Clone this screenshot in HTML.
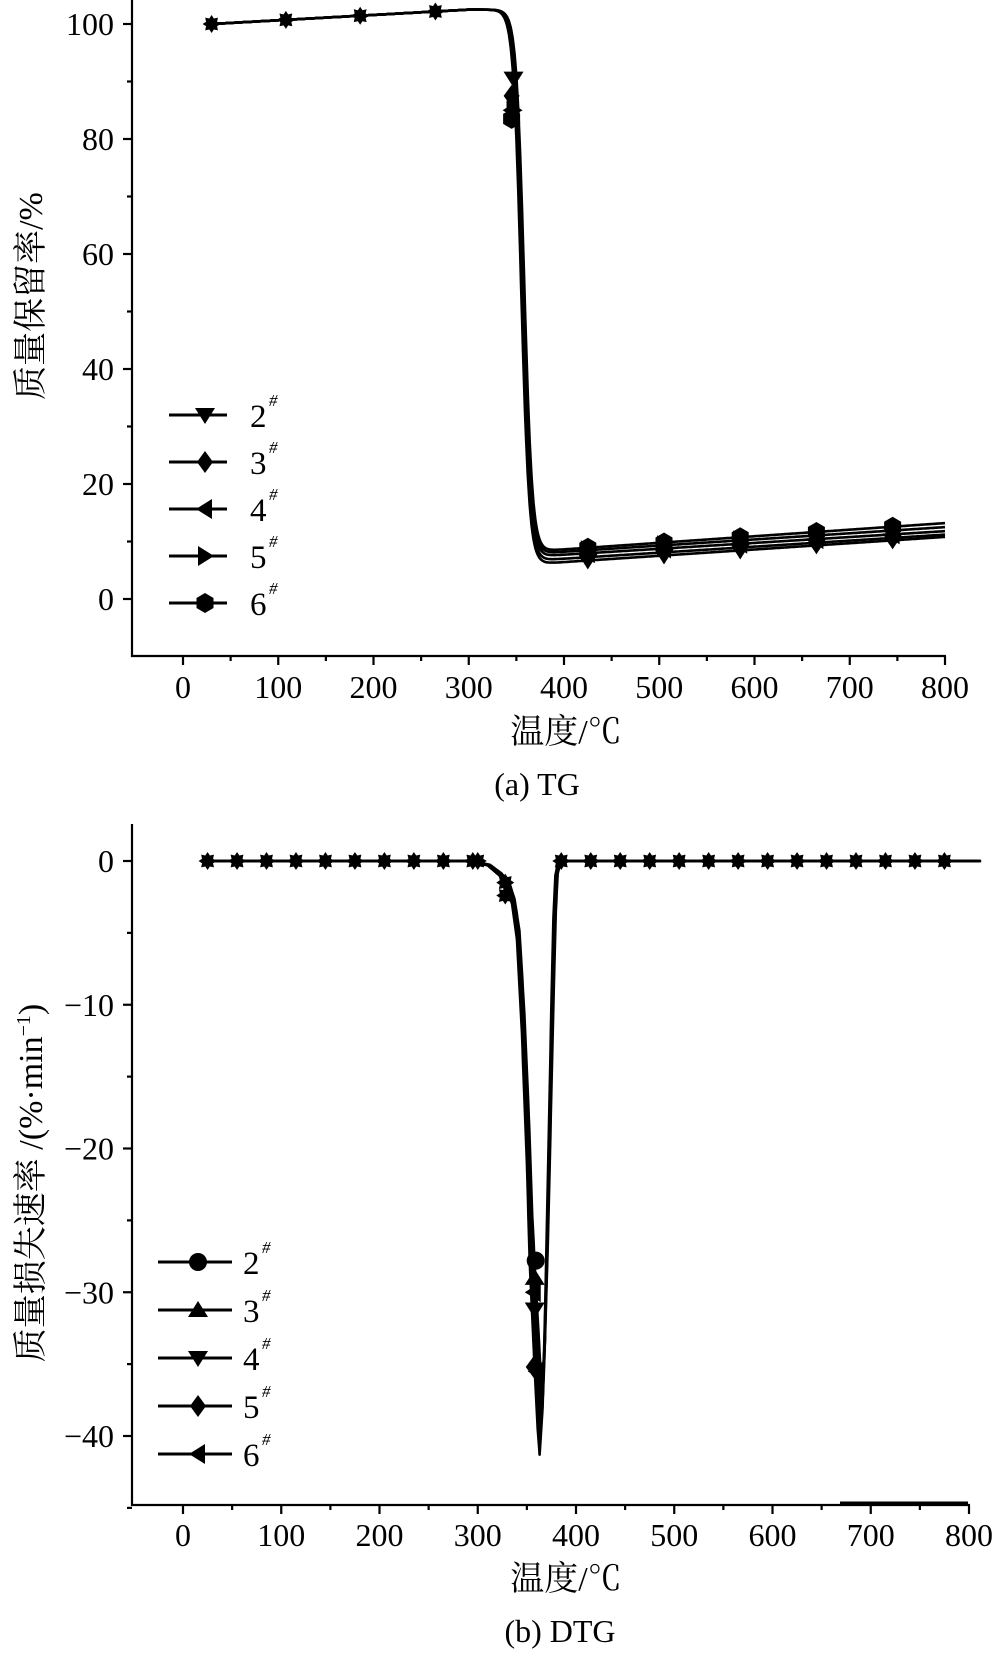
<!DOCTYPE html>
<html><head><meta charset="utf-8"><style>
html,body{margin:0;padding:0;background:#fff}
svg{display:block}
text{font-family:"Liberation Serif","Noto Serif CJK SC",serif;fill:#000}
</style></head><body>
<svg id="s" width="1000" height="1656" xmlns="http://www.w3.org/2000/svg">
<defs>
<g id="star"><polygon points="0,-9 2.3,-5.5 6.4,-6.4 5.5,-2.3 9,0 5.5,2.3 6.4,6.4 2.3,5.5 0,9 -2.3,5.5 -6.4,6.4 -5.5,2.3 -9,0 -5.5,-2.3 -6.4,-6.4 -2.3,-5.5" fill="#000"/></g>
</defs>
<g id="g1"></g>
</svg>
<script>
const S=document.getElementById('g1');let h='';
function L(x1,y1,x2,y2,w){h+=`<line x1="${x1}" y1="${y1}" x2="${x2}" y2="${y2}" stroke="#000" stroke-width="${w||2.2}"/>`;}
function T(x,y,s,a,fs,extra){h+=`<text x="${x}" y="${y}" font-size="${fs||32}" text-anchor="${a||'middle'}" ${extra||''}>${s}</text>`;}
function mk(t,x,y){const r=10;
 if(t=='dn')h+=`<polygon points="${x-r},${y-r*0.7} ${x+r},${y-r*0.7} ${x},${y+r*0.9}"/>`;
 if(t=='up')h+=`<polygon points="${x-r},${y+r*0.7} ${x+r},${y+r*0.7} ${x},${y-r*0.9}"/>`;
 if(t=='di')h+=`<polygon points="${x},${y-r*1.1} ${x+r*0.8},${y} ${x},${y+r*1.1} ${x-r*0.8},${y}"/>`;
 if(t=='lt')h+=`<polygon points="${x+r*0.7},${y-r} ${x+r*0.7},${y+r} ${x-r*0.9},${y}"/>`;
 if(t=='rt')h+=`<polygon points="${x-r*0.7},${y-r} ${x-r*0.7},${y+r} ${x+r*0.9},${y}"/>`;
 if(t=='hx')h+=`<polygon points="${x},${y-r} ${x+r*0.85},${y-r*0.5} ${x+r*0.85},${y+r*0.5} ${x},${y+r} ${x-r*0.85},${y+r*0.5} ${x-r*0.85},${y-r*0.5}"/>`;
 if(t=='ci')h+=`<circle cx="${x}" cy="${y}" r="${r*0.9}"/>`;
 if(t=='st')h+=`<use href="#star" x="${x}" y="${y}"/>`;
}
function path(pts,w){h+=`<path d="M${pts.map(p=>p[0].toFixed(1)+','+p[1].toFixed(1)).join('L')}" fill="none" stroke="#000" stroke-width="${w||3}" stroke-linejoin="round"/>`;}
// ---------- TG ----------
let X1=t=>183+0.9525*t,Y1=v=>599-5.75*v;
L(132,0,132,657);L(131,656,946,656);
for(let v=0;v<=100;v+=20){L(132,Y1(v),123,Y1(v));T(114,Y1(v)+11,v,'end');}
for(let v=10;v<=90;v+=20){L(132,Y1(v),127,Y1(v));}
for(let t=0;t<=800;t+=100){L(X1(t),656,X1(t),665);T(X1(t),698,t);}
for(let t=50;t<=750;t+=100){L(X1(t),656,X1(t),661);}
T(566,743,'温度/℃','middle',34);T(537,795,'(a) TG','middle',32);
h+=`<text transform="translate(42,296) rotate(-90)" font-size="34" text-anchor="middle">质量保留率/%</text>`;
const ends=[[6.2,10.8],[6.8,11.2],[7.5,11.8],[8,12.5],[8.4,13.2]];
ends.forEach((e,i)=>{let pts=[];for(let t=30;t<=800;t+=1){let v;
 const lowLine=e[0]+(e[1]-e[0])*(t-380)/420;
 if(t<300)v=100+2.5*(t-30)/270;else{const d=1/(1+Math.exp(-(t-(355+i*0.8))/4.2));const base=t<380?e[0]:lowLine;v=102.5-(102.5-base)*d;}
 pts.push([X1(t),Y1(v)]);}path(pts,2.6);});
[30,108,186,265].forEach(t=>{const v=100+2.5*(t-30)/270;mk('st',X1(t),Y1(v));});
mk('dn',X1(347),Y1(90.5));mk('di',X1(345),Y1(87.5));mk('lt',X1(345),Y1(85));mk('rt',X1(347),Y1(85));mk('hx',X1(345),Y1(83.5));
[425,505,585,665,745].forEach(t=>{ends.forEach((e,i)=>{const v=e[0]+(e[1]-e[0])*(t-380)/420;mk(['dn','di','lt','rt','hx'][i],X1(t),Y1(v));});});
const lg1=[['dn','2'],['di','3'],['lt','4'],['rt','5'],['hx','6']];
lg1.forEach((l,i)=>{const y=415+i*47;L(169,y,227,y,3);mk(l[0],205,y);T(250,y+12,l[1],'start',33);T(269,y-9,'#','start',17,'font-style="italic"');});
// ---------- DTG ----------
let X2=t=>183+0.9825*t,Y2=v=>861-14.375*v;
L(132,824,132,1506);L(131,1505,970,1505);
for(let v=0;v>=-40;v-=10){L(132,Y2(v),123,Y2(v));T(114,Y2(v)+11,v==0?'0':'−'+(-v),'end');}
for(let v=-5;v>=-45;v-=10){L(132,Y2(v),127,Y2(v));}
for(let t=0;t<=800;t+=100){L(X2(t),1505,X2(t),1514);T(X2(t),1546,t);}
for(let t=50;t<=750;t+=100){L(X2(t),1505,X2(t),1510);}
L(840,1503,968,1503,3);
T(566,1590,'温度/℃','middle',34);T(560,1642,'(b) DTG','middle',32);
h+=`<text transform="translate(42,1183) rotate(-90)" font-size="34" text-anchor="middle">质量损失速率 /(%·min<tspan dy="-12" font-size="20">−1</tspan><tspan dy="12">)</tspan></text>`;
const lk=[[290,0],[310,-0.3],[322,-1],[330,-1.8],[335,-3],[340,-5.5],[345,-12],[350,-21],[353,-28],[357,-34],[361,-39.5],[363,-41.3],[366,-38],[369,-30],[372,-20],[375,-10],[377,-4],[379,-1],[382,0]];
function dtg(t,k){if(t<=290||t>=382)return 0;for(let i=0;i<lk.length-1;i++){if(t>=lk[i][0]&&t<=lk[i+1][0]){const f=(t-lk[i][0])/(lk[i+1][0]-lk[i][0]);let v=lk[i][1]+f*(lk[i+1][1]-lk[i][1]);return v*(1-k*0.03);}}return 0;}
for(let k=0;k<5;k++){let pts=[];for(let t=20;t<=810;t+=0.5){pts.push([X2(t+k*0.6),Y2(dtg(t,k))]);}path(pts,2.6);}
for(let t=25;t<=780;t+=30){if(t>300&&t<385)continue;mk('st',X2(t),Y2(0));}
mk('st',X2(300),Y2(0));mk('st',X2(328),Y2(-1.5));mk('st',X2(328),Y2(-2.4));
mk('ci',X2(359),Y2(-27.8));mk('up',X2(358),Y2(-29));mk('lt',X2(357),Y2(-30));mk('dn',X2(358),Y2(-31.2));mk('di',X2(357),Y2(-35.2));mk('lt',X2(360),Y2(-35.5));
const lg2=[['ci','2'],['up','3'],['dn','4'],['di','5'],['lt','6']];
lg2.forEach((l,i)=>{const y=1262+i*48;L(158,y,232,y,3);mk(l[0],198,y);T(243,y+12,l[1],'start',33);T(262,y-9,'#','start',17,'font-style="italic"');});
S.innerHTML=h;
</script>
</body></html>
